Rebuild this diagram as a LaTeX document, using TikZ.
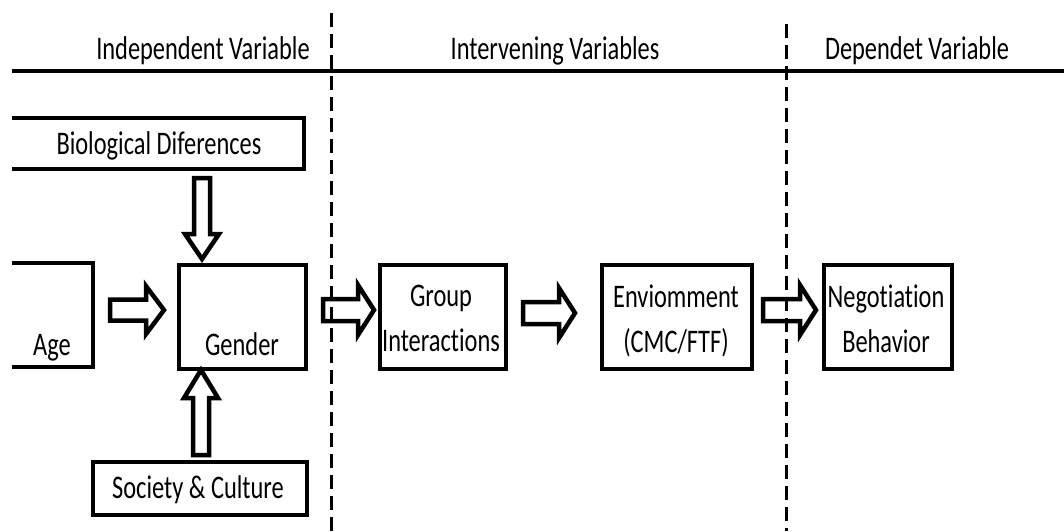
\documentclass[tikz,border=0pt]{standalone}
\usepackage{fontspec}
\setmainfont[RawFeature={-liga;-dlig;-clig}]{Carlito}
\usepackage{graphicx}
\newcommand\vs[1]{\scalebox{1}[1.35]{#1}}
\tikzset{
  boxline/.style={draw=black, line width=3.8pt, line join=miter},
  vbox/.style={boxline, inner sep=0pt, anchor=north west},
  txt/.style={inner sep=0pt, anchor=base, font=\fontsize{24.4}{45}\selectfont, text=black},
  arrline/.style={draw=black, fill=white, line width=4.5pt, line join=miter, miter limit=4},
  sepline/.style={draw=black, line width=3pt, dash pattern=on 14pt off 7pt},
  headline/.style={draw=black, line width=4.5pt},
  pics/barrow/.style n args={4}{code={
    \draw[arrline] (0,-#3) -- (#1-#2,-#3) -- (#1-#2,-#4) -- (#1,0) -- (#1-#2,#4) -- (#1-#2,#3) -- (0,#3) -- cycle;
  }}
}
\begin{document}
\begin{tikzpicture}[x=1pt,y=-1pt]
\useasboundingbox (0,0) rectangle (1064,531);
% header
\draw[headline] (12,71) coordinate (hl) -- (1064,71) coordinate (hr);
\node[txt] (h1) at (203,59) {\vs{Independent Variable}};
\node[txt] (h2) at (555,59) {\vs{Intervening Variables}};
\node[txt] (h3) at (917,59) {\vs{Dependet Variable}};
% open boxes (cut at the left edge)
\draw[boxline] (12,118) -- (304,118) -- (304,169) -- (12,169);
\draw[boxline] (12,263) -- (93,263) -- (93,367) -- (12,367);
\node[txt] (bio) at (159,154) {\vs{Biological Diferences}};
\node[txt] (age) at (52,355) {\vs{Age}};
% closed boxes
\node[vbox, minimum width=127pt, minimum height=104pt] (gender) at (177,263) {};
\node[txt] (gendert) at (242,355) {\vs{Gender}};
\node[vbox, minimum width=214pt, minimum height=53pt] (society) at (91,460) {};
\node[txt] (societyt) at (198,498) {\vs{Society \& Culture}};
\node[vbox, minimum width=126pt, minimum height=104pt] (group) at (378,263) {};
\node[txt, align=center, anchor=north] (groupt) at (441,285) {\vs{Group}\\\vs{Interactions}};
\node[vbox, minimum width=150pt, minimum height=104pt] (env) at (600,263) {};
\node[txt, align=center, anchor=north] (envt) at (676,285) {\vs{Enviomment}\\\vs{(CMC/FTF)}};
\node[vbox, minimum width=128pt, minimum height=104pt] (neg) at (822,263) {};
\node[txt, align=center, anchor=north] (negt) at (886,285) {\vs{Negotiation}\\\vs{Behavior}};
% block arrows
\pic[rotate=-90] at (202,178) {barrow={81}{25}{8}{17}};
\pic at (110,310) {barrow={54}{18}{10.5}{24}};
\pic[rotate=90] at (201,455) {barrow={85}{28}{8}{17}};
\pic at (323,310) {barrow={51}{16}{11}{25}};
\pic at (523,313) {barrow={52}{16}{11}{25}};
\pic at (763,310) {barrow={53}{16}{11}{25}};
% dashed separators
\draw[sepline] (331,13) coordinate (s1t) -- (331,531) coordinate (s1b);
\draw[sepline] (786,24) coordinate (s2t) -- (786,531) coordinate (s2b);
\end{tikzpicture}
\end{document}
